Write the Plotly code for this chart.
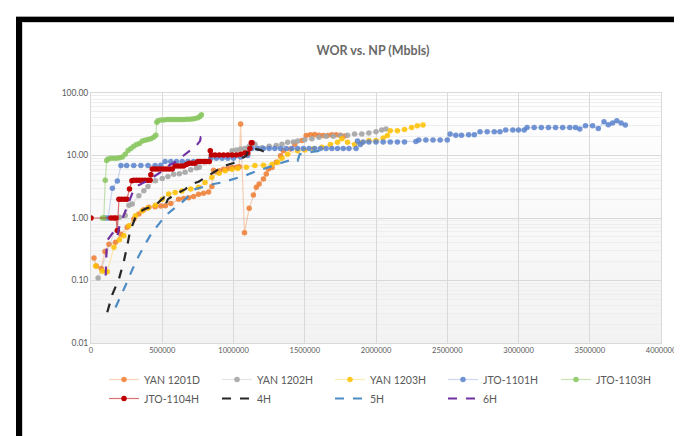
import plotly.graph_objects as go

# ---------------- data (cumulative oil Np in bbl, WOR) ----------------
yan1201d_x = [21e3, 37e3, 72e3, 98e3, 126e3, 172e3, 210e3, 254e3, 301e3, 336e3, 370e3, 406e3, 450e3, 490e3,
              522e3, 560e3, 615e3, 650e3, 685e3, 720e3, 755e3, 790e3, 825e3, 848e3, 860e3, 880e3, 900e3, 930e3,
              960e3, 990e3, 1020e3, 1040e3, 1050e3, 1077e3, 1110e3, 1140e3, 1160e3, 1180e3, 1210e3, 1230e3,
              1245e3, 1270e3, 1300e3, 1330e3, 1350e3, 1400e3, 1430e3, 1480e3, 1510e3, 1540e3, 1570e3, 1600e3,
              1630e3, 1660e3, 1690e3, 1720e3, 1750e3, 1780e3]
yan1201d_y = [0.23, 0.17, 0.155, 0.29, 0.38, 0.41, 0.55, 0.71, 0.96, 1.16, 1.35, 1.48, 1.52, 1.55,
              1.57, 1.7, 2.0, 2.05, 2.1, 2.2, 2.4, 2.5, 2.6, 3.2, 5.8, 5.5, 5.7, 6.0,
              6.2, 6.4, 6.5, 6.6, 31.8, 0.58, 1.43, 2.33, 3.1, 3.5, 4.2, 5.06,
              6.1, 6.4, 7.8, 9.9, 11.9, 12.7, 15.2, 17.3, 20.8, 21.5, 21.6, 21.0,
              20.8, 20.8, 21.5, 21.5, 21.0, 20.5]

yan1202h_x = [50e3, 200e3, 240e3, 266e3, 289e3, 336e3, 371e3, 400e3, 452e3, 500e3, 540e3, 580e3, 620e3,
              660e3, 700e3, 740e3, 760e3, 990e3, 1020e3, 1050e3, 1080e3, 1110e3, 1150e3, 1200e3, 1250e3,
              1300e3, 1340e3, 1380e3, 1420e3, 1450e3, 1500e3, 1550e3, 1600e3, 1650e3, 1700e3, 1750e3,
              1800e3, 1850e3, 1900e3, 1950e3, 2000e3, 2040e3, 2070e3]
yan1202h_y = [0.11, 1.03, 1.1, 1.6, 1.67, 2.28, 2.73, 3.2, 3.95, 4.3, 4.6, 5.0, 5.1,
              5.4, 5.9, 6.3, 6.5, 11.9, 12.3, 12.7, 13.0, 14.0, 15.2, 13.3, 14.0,
              14.5, 15.2, 16.3, 16.5, 17.0, 17.8, 18.5, 19.5, 20.4, 20.4, 20.8,
              21.0, 22.0, 22.0, 23.0, 24.0, 25.5, 26.5]

yan1203h_x = [33e3, 79e3, 114e3, 161e3, 200e3, 231e3, 266e3, 312e3, 359e3, 400e3, 452e3, 500e3, 545e3,
              590e3, 638e3, 700e3, 755e3, 800e3, 848e3, 900e3, 942e3, 990e3, 1030e3, 1090e3, 1150e3,
              1210e3, 1270e3, 1310e3, 1340e3, 1380e3, 1450e3, 1500e3, 1560e3, 1620e3, 1680e3, 1730e3,
              1760e3, 1800e3, 1850e3, 1900e3, 1950e3, 2000e3, 2050e3, 2080e3, 2100e3, 2150e3, 2200e3,
              2250e3, 2290e3, 2330e3]
yan1203h_y = [0.17, 0.14, 0.138, 0.34, 0.45, 0.52, 0.75, 1.09, 1.3, 1.45, 1.6, 2.0, 2.42,
              2.55, 2.7, 2.9, 3.1, 3.7, 4.5, 5.2, 5.7, 6.0, 6.2, 6.5, 6.9,
              7.0, 7.2, 7.8, 9.0, 10.5, 11.9, 12.3, 12.8, 13.5, 15.0, 16.3,
              18.6, 16.3, 15.0, 16.0, 17.3, 17.3, 19.0, 20.8, 25.0, 25.0, 26.0,
              28.0, 30.0, 30.8]

jto1101h_x = [100e3, 120e3, 150e3, 185e3, 210e3, 250e3, 300e3, 350e3, 400e3, 450e3, 490e3, 520e3, 560e3,
              600e3, 640e3, 680e3, 720e3, 760e3, 800e3, 840e3, 880e3, 920e3, 960e3, 1000e3, 1050e3,
              1100e3, 1130e3, 1170e3, 1210e3, 1250e3, 1290e3, 1330e3, 1370e3, 1410e3, 1450e3, 1490e3,
              1530e3, 1570e3, 1610e3, 1650e3, 1690e3, 1730e3, 1770e3, 1810e3, 1860e3, 1870e3, 1890e3,
              1910e3, 1950e3, 2000e3, 2050e3, 2100e3, 2150e3, 2200e3, 2280e3, 2300e3, 2350e3, 2400e3,
              2450e3, 2500e3, 2520e3, 2560e3, 2600e3, 2650e3, 2690e3, 2730e3, 2780e3, 2830e3, 2870e3,
              2910e3, 2960e3, 3000e3, 3040e3, 3060e3, 3110e3, 3160e3, 3210e3, 3260e3, 3310e3, 3360e3,
              3400e3, 3430e3, 3470e3, 3520e3, 3560e3, 3600e3, 3630e3, 3660e3, 3690e3, 3720e3, 3750e3]
jto1101h_y = [1.0, 1.0, 3.0, 3.9, 6.9, 6.9, 6.9, 6.9, 6.9, 6.9, 7.0, 8.0, 8.0,
              8.0, 8.0, 8.0, 8.0, 8.0, 8.0, 9.0, 9.0, 9.0, 9.0, 9.0, 9.5,
              10.0, 13.0, 13.0, 13.0, 13.0, 13.0, 13.0, 13.0, 13.0, 13.0, 13.0,
              13.0, 13.0, 13.0, 13.0, 13.0, 13.0, 13.0, 13.0, 13.0, 17.0, 15.0,
              16.5, 16.5, 16.5, 16.5, 16.5, 16.5, 16.5, 16.8, 17.7, 17.7, 17.7,
              17.7, 17.7, 22.0, 21.0, 21.0, 21.5, 21.5, 24.0, 24.0, 24.0, 24.0,
              25.5, 25.5, 25.5, 25.5, 28.0, 28.0, 28.0, 28.0, 28.0, 28.0, 28.0,
              28.0, 26.5, 30.0, 30.0, 27.0, 34.8, 31.0, 33.0, 36.0, 33.0, 30.8]

jto1103h_x = [80e3, 90e3, 100e3, 110e3, 120e3, 140e3, 160e3, 180e3, 200e3, 220e3, 240e3, 260e3, 280e3,
              300e3, 320e3, 340e3, 360e3, 380e3, 400e3, 420e3, 440e3, 455e3, 462e3, 470e3, 490e3, 510e3,
              530e3, 550e3, 570e3, 590e3, 610e3, 630e3, 650e3, 670e3, 690e3, 710e3, 730e3, 750e3, 765e3,
              775e3]
jto1103h_y = [1.0, 1.0, 4.0, 8.3, 8.8, 9.0, 9.0, 9.0, 9.2, 9.5, 10.5, 12.0, 13.0,
              14.0, 15.0, 15.5, 17.0, 17.5, 18.0, 18.5, 19.5, 21.0, 34.0, 36.0, 37.0, 37.0,
              37.5, 37.5, 37.5, 37.5, 37.5, 37.5, 37.5, 38.0, 38.0, 38.5, 39.0, 40.0, 42.0,
              45.0]

jto1104h_x = [0, 140e3, 160e3, 175e3, 185e3, 196e3, 215e3, 235e3, 252e3, 270e3, 287e3, 300e3, 320e3,
              340e3, 360e3, 380e3, 400e3, 415e3, 420e3, 430e3, 450e3, 470e3, 490e3, 510e3, 530e3, 550e3,
              570e3, 590e3, 610e3, 630e3, 650e3, 670e3, 690e3, 710e3, 730e3, 750e3, 770e3, 790e3, 810e3,
              830e3, 837e3, 845e3, 870e3, 900e3, 930e3, 960e3, 990e3, 1020e3, 1050e3, 1080e3, 1100e3,
              1115e3, 1125e3, 1130e3]
jto1104h_y = [1.0, 1.0, 1.0, 1.0, 0.63, 2.0, 2.0, 2.0, 2.0, 2.9, 3.95, 4.0, 4.0,
              4.0, 4.0, 4.0, 4.0, 4.0, 4.9, 6.1, 6.1, 6.1, 6.1, 6.1, 6.1, 6.1,
              6.1, 6.8, 6.8, 6.8, 6.8, 7.2, 7.5, 7.5, 7.5, 8.0, 8.0, 8.0, 8.0,
              8.0, 11.9, 10.2, 10.2, 10.2, 10.2, 10.2, 10.2, 10.2, 10.5, 11.0, 11.0,
              13.0, 16.0, 16.0]

h4_x = [114e3, 150e3, 196e3, 230e3, 254e3, 270e3, 289e3, 310e3, 336e3, 380e3, 420e3, 452e3, 487e3,
        510e3, 522e3, 540e3, 580e3, 620e3, 662e3, 708e3, 755e3, 800e3, 850e3, 900e3, 950e3, 1000e3,
        1040e3, 1070e3, 1090e3, 1100e3, 1120e3, 1140e3, 1170e3, 1190e3, 1220e3]
h4_y = [0.031, 0.06, 0.106, 0.2, 0.36, 0.55, 0.75, 1.0, 1.23, 1.4, 1.5, 1.6, 1.9,
        2.1, 1.6, 2.0, 2.3, 2.6, 2.9, 3.5, 3.8, 4.4, 5.2, 6.1, 7.0, 7.6,
        8.5, 9.3, 9.9, 11.5, 13.0, 13.0, 12.7, 12.2, 11.3]

h5_x = [172e3, 200e3, 242e3, 290e3, 336e3, 380e3, 429e3, 480e3, 522e3, 580e3, 638e3, 690e3, 732e3,
        800e3, 860e3, 918e3, 1000e3, 1080e3, 1150e3, 1200e3, 1270e3, 1350e3, 1430e3, 1450e3, 1465e3,
        1500e3, 1560e3, 1620e3]
h5_y = [0.037, 0.05, 0.083, 0.15, 0.25, 0.38, 0.59, 0.82, 1.09, 1.4, 1.78, 2.3, 2.9,
        3.2, 3.5, 3.7, 4.2, 4.75, 5.5, 6.0, 6.9, 7.8, 8.8, 8.3, 10.5,
        11.0, 11.5, 12.0]

h6_x = [103e3, 106e3, 110e3, 118e3, 137e3, 165e3, 185e3, 200e3, 215e3, 230e3, 250e3, 270e3, 290e3,
        310e3, 330e3, 360e3, 400e3, 450e3, 500e3, 550e3, 600e3, 650e3, 700e3, 740e3, 765e3, 770e3,
        780e3, 800e3]
h6_y = [0.12, 0.2, 0.35, 0.45, 0.52, 0.63, 0.52, 0.75, 0.9, 1.1, 1.5, 2.0, 2.5,
        3.0, 3.3, 3.6, 4.0, 4.75, 5.6, 7.0, 8.0, 10.0, 12.5, 14.5, 17.0, 19.5,
        19.0, 16.5]

y_tickvals = [0.01, 0.1, 1, 10, 100]
y_ticktext = ["0.01", "0.10", "1.00", "10.00", "100.00"]
y_minor_vals = [m * d for d in (0.01, 0.1, 1, 10) for m in range(2, 10)]
x_tickvals = [0, 500000, 1000000, 1500000, 2000000, 2500000, 3000000, 3500000, 4000000]
x_ticktext = ["0", "500000", "1000000", "1500000", "2000000", "2500000", "3000000", "3500000", "4000000"]

# ---------------- figure ----------------
W, H = 682, 436
ML, MR, MT, MB = 83, 29, 85, 101
PW, PH = W - ML - MR, H - MT - MB

def px2pap(px):
    return (px - ML) / PW

def py2pap(py):
    return (H - MB - py) / PH

fig = go.Figure()

marker_series = [
    ("YAN 1201D", yan1201d_x, yan1201d_y, "rgba(237,125,49,0.85)", "rgba(237,125,49,0.35)"),
    ("YAN 1202H", yan1202h_x, yan1202h_y, "rgba(165,165,165,0.9)", "rgba(165,165,165,0.3)"),
    ("YAN 1203H", yan1203h_x, yan1203h_y, "rgba(255,192,0,0.85)", "rgba(255,192,0,0.3)"),
    ("JTO-1101H", jto1101h_x, jto1101h_y, "rgba(91,130,205,0.85)", "rgba(91,130,205,0.3)"),
    ("JTO-1103H", jto1103h_x, jto1103h_y, "rgba(140,200,100,0.9)", "rgba(140,200,100,0.5)"),
    ("JTO-1104H", jto1104h_x, jto1104h_y, "rgba(192,0,0,1)", "rgba(192,0,0,0.55)"),
]
for name, xs, ys, mc, lc in marker_series:
    fig.add_trace(go.Scatter(
        x=xs, y=ys, name=name, mode="lines+markers",
        line=dict(color=lc, width=1.2),
        marker=dict(symbol="circle", size=5.5, color=mc, line=dict(width=0)),
    ))

dash_series = [
    ("4H", h4_x, h4_y, "#262626"),
    ("5H", h5_x, h5_y, "#4f8cc4"),
    ("6H", h6_x, h6_y, "#7030a0"),
]
for name, xs, ys, c in dash_series:
    fig.add_trace(go.Scatter(
        x=xs, y=ys, name=name, mode="lines",
        line=dict(color=c, width=2.2, dash="dash"),
    ))

shapes = []
# subtle vertical gradient in plot area
nb = 24
for i in range(nb):
    g = int(round(255 - 13 * (i / (nb - 1))))
    shapes.append(dict(type="rect", xref="paper", yref="paper",
                       x0=0, x1=1, y0=1 - (i + 1) / nb, y1=1 - i / nb,
                       fillcolor=f"rgb({g},{g},{g})", line=dict(width=0), layer="below"))
# outer frame
shapes += [
    dict(type="line", xref="paper", yref="paper", x0=px2pap(8), x1=px2pap(682), y0=py2pap(8.5), y1=py2pap(8.5),
         line=dict(color="#a6a6a6", width=1)),
    dict(type="rect", xref="paper", yref="paper", x0=px2pap(8), x1=px2pap(682), y0=py2pap(14), y1=py2pap(9),
         fillcolor="black", line=dict(width=0)),
    dict(type="rect", xref="paper", yref="paper", x0=px2pap(8), x1=px2pap(14), y0=py2pap(436), y1=py2pap(9),
         fillcolor="black", line=dict(width=0)),
    dict(type="line", xref="paper", yref="paper", x0=px2pap(14.5), x1=px2pap(14.5), y0=py2pap(433), y1=py2pap(14),
         line=dict(color="#d0d0d0", width=1)),
    dict(type="line", xref="paper", yref="paper", x0=px2pap(14), x1=px2pap(680), y0=py2pap(14.5), y1=py2pap(14.5),
         line=dict(color="#d0d0d0", width=1)),
    dict(type="line", xref="paper", yref="paper", x0=px2pap(680.5), x1=px2pap(680.5), y0=py2pap(434), y1=py2pap(14),
         line=dict(color="#7f7f7f", width=1.5)),
    dict(type="rect", xref="paper", yref="paper", x0=px2pap(8), x1=px2pap(682), y0=py2pap(436), y1=py2pap(433),
         fillcolor="black", line=dict(width=0)),
]

font_family = "Lato, 'Open Sans', sans-serif"
fig.update_layout(
    width=W, height=H,
    margin=dict(l=ML, r=MR, t=MT, b=MB, pad=0),
    paper_bgcolor="white",
    plot_bgcolor="white",
    font=dict(family=font_family, color="#595959", size=8),
    title=dict(text="<b>WOR vs. NP (Mbbls)</b>", x=365 / W, xanchor="center",
               y=1 - 43 / H, yanchor="middle",
               font=dict(size=12.5, color="#6a6a6a", family=font_family)),
    showlegend=True,
    legend=dict(orientation="h", x=px2pap(96), xanchor="left", y=py2pap(357), yanchor="top",
                entrywidth=68, entrywidthmode="pixels", itemwidth=30,
                font=dict(size=10.5, color="#595959", family=font_family),
                bgcolor="rgba(0,0,0,0)", tracegroupgap=0),
    shapes=shapes,
)
fig.update_xaxes(range=[0, 4000000], tickvals=x_tickvals, ticktext=x_ticktext,
                 showgrid=True, gridcolor="#d9d9d9", gridwidth=1, zeroline=False,
                 showline=True, linecolor="#d9d9d9", mirror=True, ticks="", ticklen=0,
                 tickfont=dict(size=7.5, color="#595959"))
fig.update_yaxes(type="log", range=[-2, 2], tickvals=y_tickvals, ticktext=y_ticktext,
                 showgrid=True, gridcolor="#d9d9d9", gridwidth=1, zeroline=False,
                 showline=True, linecolor="#d9d9d9", mirror=True, ticks="",
                 minor=dict(tickvals=y_minor_vals, showgrid=True, gridcolor="#eeeeee", gridwidth=1, ticks=""),
                 tickfont=dict(size=8.5, color="#595959"))

fig.write_html("out.html")
